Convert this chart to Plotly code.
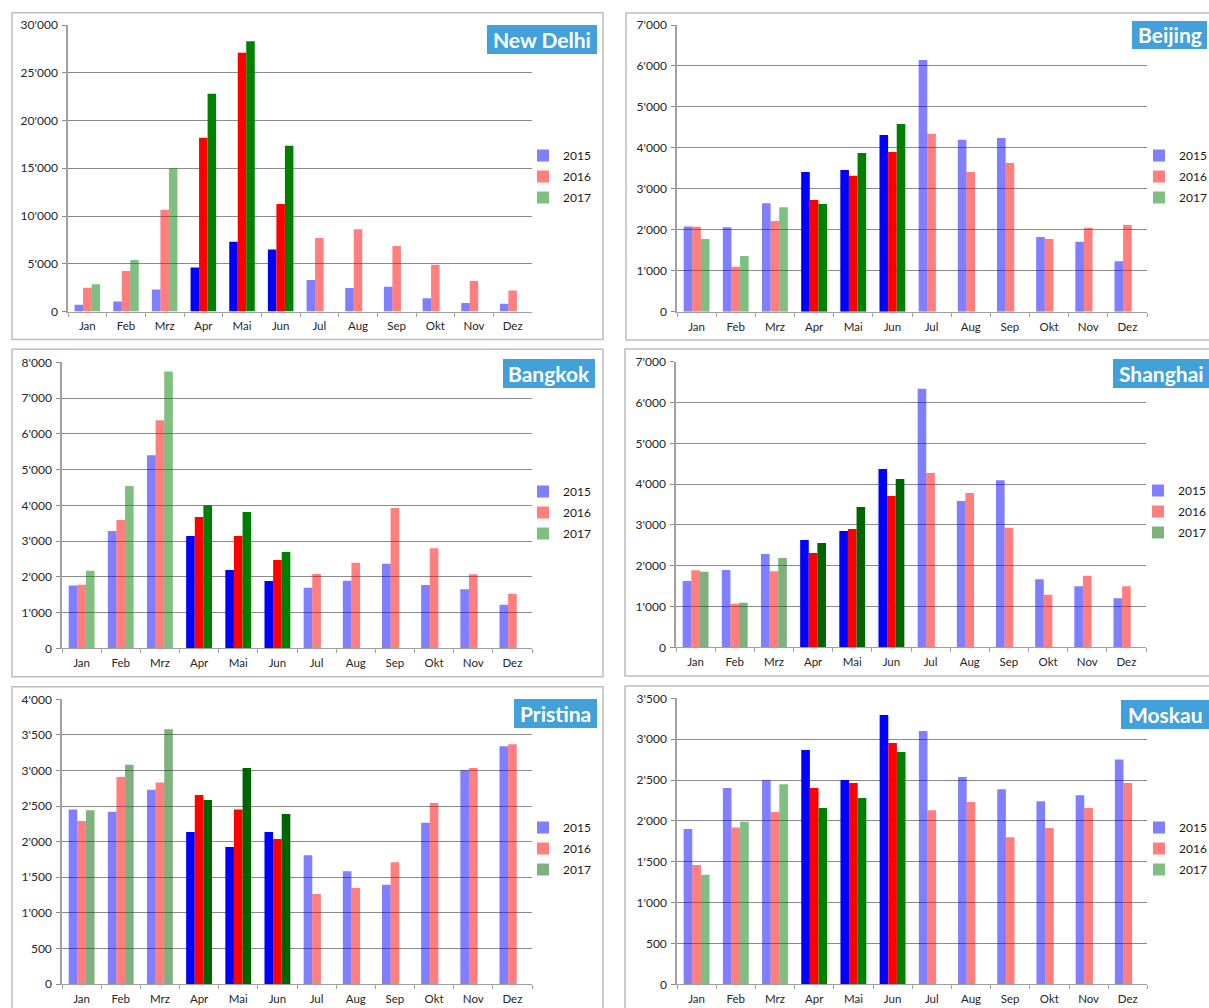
import plotly.graph_objects as go

# ---------------------------------------------------------------- data
months = ["Jan", "Feb", "Mrz", "Apr", "Mai", "Jun", "Jul", "Aug", "Sep", "Okt", "Nov", "Dez"]
years = ["2015", "2016", "2017"]
highlight_months = ["Apr", "Mai", "Jun"]

new_delhi_2015 = [700, 1050, 2300, 4600, 7300, 6500, 3300, 2450, 2600, 1400, 900, 800]
new_delhi_2016 = [2500, 4250, 10650, 18200, 27100, 11250, 7700, 8600, 6850, 4900, 3200, 2200]
new_delhi_2017 = [2850, 5400, 15000, 22800, 28300, 17350, None, None, None, None, None, None]

beijing_2015 = [2080, 2060, 2645, 3410, 3460, 4315, 6145, 4200, 4240, 1823, 1710, 1230]
beijing_2016 = [2075, 1100, 2215, 2727, 3320, 3900, 4347, 3410, 3630, 1775, 2050, 2116]
beijing_2017 = [1775, 1360, 2548, 2630, 3875, 4583, None, None, None, None, None, None]

bangkok_2015 = [1760, 3280, 5400, 3140, 2190, 1885, 1697, 1893, 2368, 1772, 1650, 1221]
bangkok_2016 = [1780, 3590, 6380, 3675, 3140, 2470, 2080, 2396, 3925, 2797, 2070, 1529]
bangkok_2017 = [2170, 4540, 7740, 4000, 3815, 2695, None, None, None, None, None, None]

shanghai_2015 = [1625, 1895, 2287, 2630, 2851, 4370, 6338, 3586, 4092, 1666, 1495, 1200]
shanghai_2016 = [1887, 1070, 1862, 2312, 2900, 3708, 4272, 3782, 2932, 1290, 1756, 1495]
shanghai_2017 = [1854, 1094, 2189, 2557, 3439, 4125, None, None, None, None, None, None]

pristina_2015 = [2450, 2420, 2730, 2136, 1925, 2136, 1808, 1583, 1396, 2267, 3002, 3340]
pristina_2016 = [2290, 2910, 2830, 2656, 2450, 2037, 1265, 1349, 1710, 2543, 3035, 3368]
pristina_2017 = [2440, 3082, 3578, 2585, 3035, 2389, None, None, None, None, None, None]

moskau_2015 = [1900, 2403, 2497, 2868, 2500, 3297, 3100, 2538, 2387, 2240, 2313, 2750]
moskau_2016 = [1460, 1920, 2110, 2403, 2464, 2954, 2130, 2232, 1800, 1913, 2158, 2464]
moskau_2017 = [1340, 1990, 2448, 2158, 2281, 2844, None, None, None, None, None, None]

city_names = ["New Delhi", "Beijing", "Bangkok", "Shanghai", "Pristina", "Moskau"]
city_series = [
    [new_delhi_2015, new_delhi_2016, new_delhi_2017],
    [beijing_2015, beijing_2016, beijing_2017],
    [bangkok_2015, bangkok_2016, bangkok_2017],
    [shanghai_2015, shanghai_2016, shanghai_2017],
    [pristina_2015, pristina_2016, pristina_2017],
    [moskau_2015, moskau_2016, moskau_2017],
]
y_max = [30000, 7000, 8000, 7000, 4000, 3500]
y_step = [5000, 1000, 1000, 1000, 500, 500]

# ---------------------------------------------------------------- styling
W, H = 1209, 1008
FONT = "Lato, 'Open Sans', sans-serif"
GRID = "#8A8A8A"
AXIS = "#A0A0A0"
BOX_BLUE = "#42A0DB"

# base rgb per year; 2017 green is darker in two panels
rgb_2015 = (0, 0, 255)
rgb_2016 = (255, 0, 0)
green_std = (0, 128, 0)
green_dark = (0, 100, 0)
green_per_city = [green_std, green_std, green_std, green_dark, green_dark, green_std]

# pixel geometry of each panel: plot area (left, right, top, bottom),
# frame (left, top, right, bottom), name box (left, top, right, bottom),
# legend anchor (left, top)
plot_px = [
    (68, 532, 25, 311.5),
    (677, 1147, 25, 311.7),
    (62, 532, 362.3, 648.3),
    (676, 1146, 361.7, 647.3),
    (62, 532, 699.3, 984),
    (677, 1147.4, 698.3, 984.3),
]
frame_px = [
    (12, 12.7, 603, 339.5),
    (626, 13, 1230, 340),
    (12, 349.3, 603, 676.7),
    (625, 349, 1230, 676),
    (12, 686.7, 603, 1030),
    (625, 686, 1230, 1030),
]
box_px = [
    (487, 25, 597, 54),
    (1132, 21, 1207, 49),
    (503, 359, 595, 388),
    (1113, 359, 1230, 388),
    (514, 699, 597, 728),
    (1121, 700, 1230, 729),
]
legend_px = [
    (523, 141),
    (1139, 141),
    (523, 477),
    (1138, 476),
    (523, 813),
    (1139, 813),
]


def fx(x):
    return x / W


def fy(y):
    return 1 - y / H


def rgba(rgb, a):
    return "rgba(%d,%d,%d,%s)" % (rgb[0], rgb[1], rgb[2], a)


def bar_colors(rgb):
    return [rgba(rgb, 1) if m in highlight_months else rgba(rgb, 0.5) for m in months]


fig = go.Figure()
shapes = []
annotations = []
layout_axes = {}

for i, (name, series) in enumerate(zip(city_names, city_series)):
    n = i + 1
    xa = "x" if n == 1 else "x%d" % n
    ya = "y" if n == 1 else "y%d" % n
    leg = "legend" if n == 1 else "legend%d" % n
    year_rgb = [rgb_2015, rgb_2016, green_per_city[i]]

    for year, values, rgb in zip(years, series, year_rgb):
        fig.add_trace(go.Bar(
            x=months, y=values, name=year,
            marker=dict(color=bar_colors(rgb), line=dict(width=0)),
            xaxis=xa, yaxis=ya, legend=leg,
            legendgroup="%s-%s" % (name, year),
            hoverinfo="x+y+name",
        ))

    l, r, t, b = plot_px[i]
    xkey = "xaxis" if n == 1 else "xaxis%d" % n
    ykey = "yaxis" if n == 1 else "yaxis%d" % n
    layout_axes[xkey] = dict(
        domain=[fx(l), fx(r)], anchor=ya, type="category",
        categoryorder="array", categoryarray=months,
        tickson="boundaries", ticks="outside", ticklen=4, tickcolor=AXIS,
        ticklabelstandoff=4,
        showline=True, linecolor=AXIS, linewidth=1, showgrid=False,
        tickfont=dict(family=FONT, size=11.5, color="#262626"),
        fixedrange=True,
    )
    layout_axes[ykey] = dict(
        domain=[fy(b), fy(t)], anchor=xa, range=[0, y_max[i]],
        dtick=y_step[i], tick0=0, tickformat=",d",
        ticks="outside", ticklen=4, tickcolor=GRID, ticklabelstandoff=2,
        showline=True, linecolor=AXIS, linewidth=1.5,
        showgrid=True, gridcolor=GRID, gridwidth=1, zeroline=False,
        tickfont=dict(family=FONT, size=12, color="#262626"),
        fixedrange=True,
    )

    lx, ly = legend_px[i]
    layout_axes[leg] = dict(
        x=fx(lx), y=fy(ly), xanchor="left", yanchor="top",
        bgcolor="rgba(0,0,0,0)", borderwidth=0,
        traceorder="grouped", tracegroupgap=2,
        font=dict(family=FONT, size=12, color="#1a1a1a"),
    )

    # panel frame
    fl, ft, fr, fb = frame_px[i]
    shapes.append(dict(type="rect", xref="paper", yref="paper",
                       x0=fx(fl), x1=fx(fr), y0=fy(fb), y1=fy(ft),
                       line=dict(color="#BDBDBD", width=1.5),
                       fillcolor="rgba(0,0,0,0)", layer="below"))
    # city name box
    bl, bt, br, bb = box_px[i]
    shapes.append(dict(type="rect", xref="paper", yref="paper",
                       x0=fx(bl), x1=fx(br), y0=fy(bb), y1=fy(bt),
                       line=dict(width=0), fillcolor=BOX_BLUE, layer="above"))
    text_right = min(br, W)
    annotations.append(dict(
        text="<b>%s</b>" % name, xref="paper", yref="paper",
        x=fx((bl + text_right) / 2), y=fy((bt + bb) / 2),
        xanchor="center", yanchor="middle", showarrow=False,
        font=dict(family=FONT, size=21, color="white"),
    ))

fig.update_layout(
    width=W, height=H,
    margin=dict(l=0, r=0, t=0, b=0, autoexpand=False),
    paper_bgcolor="white", plot_bgcolor="white",
    separators=".'",
    barmode="group", bargap=0.34, bargroupgap=0,
    shapes=shapes, annotations=annotations,
    font=dict(family=FONT, size=11, color="#262626"),
    **layout_axes,
)

fig.write_html("out.html", config=dict(displayModeBar=False))
